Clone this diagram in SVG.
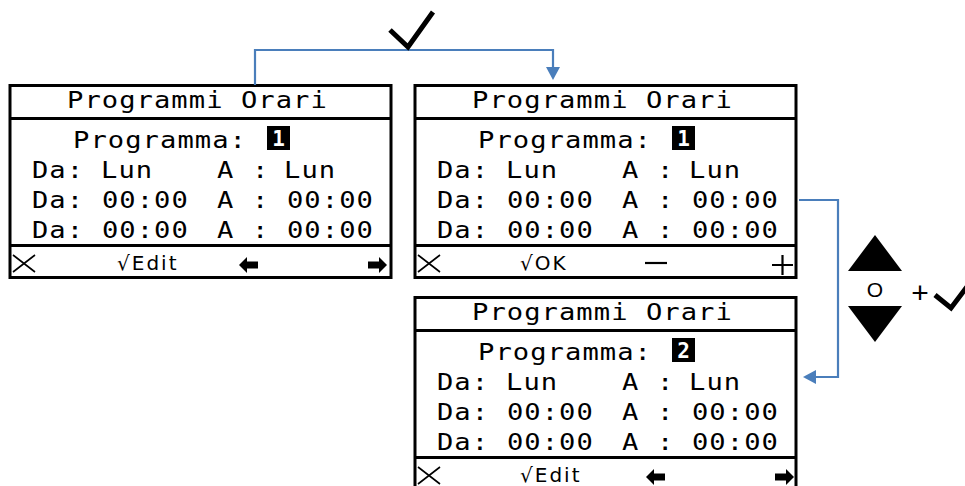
<svg xmlns="http://www.w3.org/2000/svg" width="965" height="486" viewBox="0 0 965 486">
<style>
.box{fill:#fff;stroke:#000;stroke-width:3}
.sep{stroke:#000;stroke-width:3}
.lcd{font-family:"DejaVu Sans Mono","Liberation Mono",monospace;font-size:23px;letter-spacing:0.9px;fill:#000}
.bar{font-family:"DejaVu Sans","Liberation Sans",sans-serif;font-size:20px;letter-spacing:2px;fill:#000}
.inv{font-family:"DejaVu Sans Mono","Liberation Mono",monospace;font-size:21px;font-weight:bold;fill:#fff;text-anchor:middle}
.thin{stroke:#000;stroke-width:1.6;fill:none}
.conn{fill:none;stroke:#4a7ebb;stroke-width:2.2}
.head{fill:#4a7ebb}
.chk{fill:none;stroke:#000;stroke-width:5;stroke-linejoin:miter}
.sym{font-family:"Liberation Sans",Arial,sans-serif;fill:#000;text-anchor:middle}
</style>
<defs>
<g id="body">
<rect class="box" x="10" y="85.5" width="381" height="192"/>
<line class="sep" x1="10" y1="118.5" x2="391" y2="118.5"/>
<line class="sep" x1="10" y1="245.5" x2="391" y2="245.5"/>
<rect x="267" y="126" width="23" height="24" fill="#000"/>
<g transform="scale(1.18,1)">
<text class="lcd" x="56.8" y="108">Programmi Orari</text>
<text class="lcd" x="61.9" y="148">Programma:</text>
<text class="lcd" x="27.1" y="178">Da:</text><text class="lcd" x="85.6" y="178">Lun</text><text class="lcd" x="183.9" y="178">A</text><text class="lcd" x="213.6" y="178">:</text><text class="lcd" x="240.7" y="178">Lun</text>
<text class="lcd" x="27.1" y="208">Da:</text><text class="lcd" x="86.4" y="208">00:00</text><text class="lcd" x="183.9" y="208">A</text><text class="lcd" x="213.6" y="208">:</text><text class="lcd" x="243.2" y="208">00:00</text>
<text class="lcd" x="27.1" y="238">Da:</text><text class="lcd" x="86.4" y="238">00:00</text><text class="lcd" x="183.9" y="238">A</text><text class="lcd" x="213.6" y="238">:</text><text class="lcd" x="243.2" y="238">00:00</text>
</g>
<path class="thin" d="M13 255 L35 272 M13 272 L35 255"/>
</g>
<g id="arrows">
<polygon points="239,265 247,257 247,261.5 258,261.5 258,268.5 247,268.5 247,273"/>
<polygon points="387,265 379,257 379,261.5 368,261.5 368,268.5 379,268.5 379,273"/>
</g>
</defs>

<g id="screen1">
<use href="#body"/>
<text class="inv" x="278.5" y="145.5">1</text>
<text class="bar" x="117" y="269.5">√Edit</text>
<use href="#arrows"/>
</g>

<g id="screen2" transform="translate(405,0)">
<use href="#body"/>
<text class="inv" x="278.5" y="145.5">1</text>
<text class="bar" x="115" y="269.5">√OK</text>
<line x1="240" y1="263" x2="262" y2="263" stroke="#000" stroke-width="2.2"/>
<path d="M367 265 H388 M377.5 255 V275" stroke="#000" stroke-width="2.2" fill="none"/>
</g>

<g id="screen3" transform="translate(405,212)">
<use href="#body"/>
<text class="inv" x="278.5" y="145.5">2</text>
<text class="bar" x="115" y="269.5">√Edit</text>
<use href="#arrows" transform="translate(2,0)"/>
</g>

<g id="connectors">
<polyline class="conn" points="255,85 255,50 553,50 553,68"/>
<polygon class="head" points="546,67 560,67 553,80"/>
<polyline class="conn" points="799,200 838,200 838,377 815,377"/>
<polygon class="head" points="816,370 816,384 803,377"/>
</g>

<g id="label-ok">
<polyline class="chk" points="390,30 408,47 433,12"/>
</g>

<g id="label-updown">
<polygon points="848,271 902,271 875,235" fill="#000"/>
<text class="sym" x="875" y="297" font-size="21">O</text>
<polygon points="848,306 902,306 875,342" fill="#000"/>
<text class="sym" x="920" y="303" font-size="30">+</text>
<polyline class="chk" points="935,295 951,308 972,280"/>
</g>
</svg>
